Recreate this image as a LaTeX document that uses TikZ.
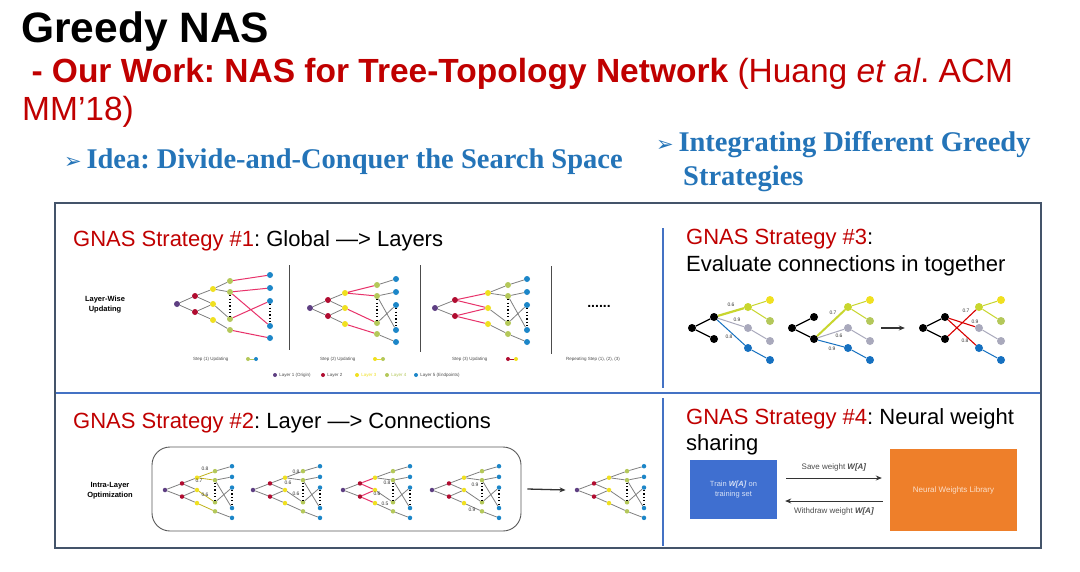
\documentclass[tikz,border=0pt]{standalone}
\usepackage{fontspec}
\setmainfont{Liberation Sans}
\newfontfamily\tnr{Liberation Serif}
\newfontfamily\dvs{DejaVu Sans}
\usetikzlibrary{arrows.meta,positioning}
\frenchspacing
\definecolor{cRed}{HTML}{C00000}
\definecolor{cBlueT}{HTML}{2474B8}
\definecolor{cFrame}{HTML}{44546A}
\definecolor{cDiv}{HTML}{4472C4}
\definecolor{cP}{HTML}{5E3F82}
\definecolor{cR}{HTML}{B00C30}
\definecolor{cY}{HTML}{F0E020}
\definecolor{cG}{HTML}{B4C85A}
\definecolor{cB}{HTML}{1C86C8}
\definecolor{cHL}{HTML}{E8336B}
\definecolor{cYG}{HTML}{C8D62E}
\definecolor{cGr}{HTML}{A9A9BC}
\definecolor{cBB}{HTML}{1570C0}
\definecolor{cBox}{HTML}{3F6FD0}
\definecolor{cOr}{HTML}{EE7F2A}
\tikzset{
  n/.style={circle,inner sep=0pt,minimum size=6pt,draw=none},
  cn/.style={circle,inner sep=0pt,minimum size=8pt,draw=none},
  ed/.style={draw=black!50,line width=0.8pt},
  e1/.style={ed},e2/.style={ed},e3/.style={ed},e4/.style={ed},
  hl/.style={draw=cHL,line width=1pt},
  lbl/.style={font=\fontsize{5}{5}\selectfont,inner sep=0pt,text=black!80},
  tiny/.style={font=\fontsize{4.5}{5}\selectfont,inner sep=0pt,text=black!70},
  head/.style={anchor=base west,inner sep=0pt},
  strat/.style={anchor=base west,inner sep=0pt,font=\fontsize{22}{26}\selectfont},
  bul/.style={anchor=base west,inner sep=0pt,text=cBlueT,font=\tnr\bfseries\fontsize{28.5}{34}\selectfont},
  sep/.style={draw=black!70,line width=0.8pt},
  dv/.style={draw=cDiv,line width=1.6pt},
  dots/.style={draw=black,line width=1.2pt,dash pattern=on 1.2pt off 2.2pt},
  ar/.style={-{Stealth[length=6pt,width=5pt]},line width=1pt,draw=black!80}
}
\def\tys{1}
\def\ns{6pt}
% layer-wise tree: #1 prefix, #2 x, #3 y, #4 xr, #5 xy, #6 xg, #7 xl
\newcommand{\lwtree}[7]{%
\begin{scope}[shift={(#2,#3)},yscale=\tys]
\node[n,fill=cP,minimum size=\ns] (#1o) at (0,0) {};
\node[n,fill=cR,minimum size=\ns] (#1r1) at (#4,-8) {};
\node[n,fill=cR,minimum size=\ns] (#1r2) at (#4,8) {};
\node[n,fill=cY,minimum size=\ns] (#1y1) at (#5,-15) {};
\node[n,fill=cY,minimum size=\ns] (#1y2) at (#5,0) {};
\node[n,fill=cY,minimum size=\ns] (#1y3) at (#5,16) {};
\node[n,fill=cG,minimum size=\ns] (#1g1) at (#6,-23) {};
\node[n,fill=cG,minimum size=\ns] (#1g2) at (#6,-12) {};
\node[n,fill=cG,minimum size=\ns] (#1g3) at (#6,15) {};
\node[n,fill=cG,minimum size=\ns] (#1g4) at (#6,26) {};
\node[n,fill=cB,minimum size=\ns] (#1l1) at (#7,-29) {};
\node[n,fill=cB,minimum size=\ns] (#1l2) at (#7,-16) {};
\node[n,fill=cB,minimum size=\ns] (#1l3) at (#7,-3) {};
\node[n,fill=cB,minimum size=\ns] (#1l4) at (#7,22) {};
\node[n,fill=cB,minimum size=\ns] (#1l5) at (#7,34) {};
\draw[e1] (#1o)--(#1r1) (#1o)--(#1r2);
\draw[e2] (#1r1)--(#1y1) (#1r1)--(#1y2) (#1r2)--(#1y2) (#1r2)--(#1y3);
\draw[e3] (#1y1)--(#1g1) (#1y1)--(#1g2) (#1y2)--(#1g3) (#1y3)--(#1g4);
\draw[e4] (#1g1)--(#1l1) (#1g2)--(#1l2) (#1g2)--(#1l4) (#1g3)--(#1l3) (#1g4)--(#1l5);
\draw[dots] (#1g2.south) -- (#1g3.north);
\draw[dots] (#1l3.south) -- (#1l4.north);
\end{scope}}
% strategy-3 tree
\newcommand{\ctree}[3]{%
\begin{scope}[shift={(#2,#3)}]
\node[cn,fill=black] (#1o) at (0,0) {};
\node[cn,fill=black] (#1b1) at (22,-11) {};
\node[cn,fill=black] (#1b2) at (22,11) {};
\node[cn,fill=cYG] (#1ym) at (56,-21) {};
\node[cn,fill=cY] (#1yl) at (78,-28) {};
\node[cn,fill=cG] (#1gl) at (78,-7) {};
\node[cn,fill=cGr] (#1gm) at (56,0) {};
\node[cn,fill=cGr] (#1gr) at (78,13) {};
\node[cn,fill=cBB] (#1bm) at (56,20) {};
\node[cn,fill=cBB] (#1bl) at (78,32) {};
\draw[line width=1.2pt] (#1o)--(#1b1) (#1o)--(#1b2);
\draw[cYG,line width=1pt] (#1ym)--(#1yl) (#1ym)--(#1gl);
\draw[cGr,line width=1pt] (#1gm)--(#1gr);
\draw[cBB,line width=1pt] (#1bm)--(#1bl);
\end{scope}}
\begin{document}
\begin{tikzpicture}[x=1pt,y=-1pt]
\useasboundingbox[fill=white] (0,0) rectangle (1080,571);
% ---------- header ----------
\node[head,font=\bfseries\fontsize{42.5}{42}\selectfont] (title) at (21,42) {Greedy NAS};
\node[head,text=cRed,font=\fontsize{33.5}{36}\selectfont] (sub1) at (22,82) {\bfseries\ - Our Work: NAS for Tree-Topology Network\mdseries\ (Huang \textit{et al}. ACM};
\node[head,text=cRed,font=\fontsize{33.5}{36}\selectfont] (sub2) at (22,120) {MM’18)};
\node[bul] (idea) at (64,168) {{\dvs\fontsize{21}{20}\selectfont ➢}\,Idea: Divide-and-Conquer the Search Space};
\node[bul] (integ1) at (656,151) {{\dvs\fontsize{21}{20}\selectfont ➢}\,Integrating Different Greedy};
\node[bul] (integ2) at (683,185) {Strategies};
% ---------- frame ----------
\draw[draw=cFrame,line width=2pt] (55,203) rectangle (1041,548);
\draw[dv] (663,228) -- (663,388);
\draw[dv] (56,393) -- (1040,393);
\draw[dv] (663,398) -- (663,546);
% ---------- strategy 1 ----------
\node[strat] (s1) at (73,246) {\textcolor{cRed}{GNAS Strategy \#1}: Global —> Layers};
\node[align=center,font=\bfseries\fontsize{7.5}{10}\selectfont,inner sep=0pt] (lwu) at (105,305) {Layer-Wise\\Updating};
\draw[sep] (289,265) -- (289,350);
\draw[sep] (420,265) -- (420,352);
\draw[sep] (551,266) -- (551,354);
\begin{scope}[e4/.style={hl}]
\lwtree{a}{177}{304}{18}{36}{53}{93}
\end{scope}
\begin{scope}[e3/.style={hl}]
\lwtree{b}{310}{308}{18}{35}{67}{86}
\end{scope}
\begin{scope}[e2/.style={hl}]
\lwtree{c}{435}{308}{20}{53}{73}{92}
\end{scope}
\node[font=\bfseries\fontsize{14}{14}\selectfont,inner sep=0pt] (rdots) at (599,306) {......};
\node[tiny,anchor=west] (cap1) at (193,359) {Step (1) Updating};
\node[n,fill=cG,minimum size=4pt] (cap1a) at (248,359) {};
\node[n,fill=cB,minimum size=4pt] (cap1b) at (256,359) {};
\draw[cG,line width=0.8pt] (cap1a)--(cap1b);
\node[tiny,anchor=west] (cap2) at (320,359) {Step (2) Updating};
\node[n,fill=cY,minimum size=4pt] (cap2a) at (375,359) {};
\node[n,fill=cG,minimum size=4pt] (cap2b) at (383,359) {};
\draw[cY,line width=0.8pt] (cap2a)--(cap2b);
\node[tiny,anchor=west] (cap3) at (452,359) {Step (3) Updating};
\node[n,fill=cR,minimum size=4pt] (cap3a) at (508,359) {};
\node[n,fill=cY,minimum size=4pt] (cap3b) at (516,359) {};
\draw[cR,line width=0.8pt] (cap3a)--(cap3b);
\node[tiny,anchor=west] (cap4) at (566,359) {Repeating Step (1), (2), (3)};
% legend
\node[n,fill=cP,minimum size=4pt] (lg1) at (275,375) {};
\node[tiny,anchor=west,right=2pt of lg1] (lg1t) {Layer 1 (Origin)};
\node[n,fill=cR,minimum size=4pt] (lg2) at (323,375) {};
\node[tiny,anchor=west,right=2pt of lg2] (lg2t) {Layer 2};
\node[n,fill=cY,minimum size=4pt] (lg3) at (357,375) {};
\node[tiny,anchor=west,right=2pt of lg3,text=cY] (lg3t) {Layer 3};
\node[n,fill=cG,minimum size=4pt] (lg4) at (387,375) {};
\node[tiny,anchor=west,right=2pt of lg4,text=cG] (lg4t) {Layer 4};
\node[n,fill=cB,minimum size=4pt] (lg5) at (416,375) {};
\node[tiny,anchor=west,right=2pt of lg5] (lg5t) {Layer 5 (Endpoints)};
% ---------- strategy 2 ----------
\node[strat] (s2) at (73,428) {\textcolor{cRed}{GNAS Strategy \#2}: Layer —> Connections};
\node[align=center,font=\bfseries\fontsize{7.5}{10}\selectfont,inner sep=0pt] (ilo) at (110,491) {Intra-Layer\\Optimization};
\node[draw=black!65,line width=0.9pt,rounded corners=18pt,minimum width=369pt,minimum height=84pt,inner sep=0pt] (ibox) at (336.5,489) {};
\def\tys{0.82}\def\ns{4.5pt}
\begin{scope}[e3/.style={draw=cY!80!black,line width=0.8pt}]
\lwtree{d}{165}{490}{17}{32}{50}{67}
\end{scope}
\lwtree{e}{253}{490}{17}{32}{50}{67}
\begin{scope}[e2/.style={hl}]
\lwtree{f}{343}{490}{17}{32}{50}{67}
\end{scope}
\lwtree{g}{432}{490}{17}{32}{50}{67}
\lwtree{h}{577}{490}{17}{32}{50}{67}
\def\tys{1}\def\ns{6pt}
\node[lbl] (d1) at (205,469) {0.8};
\node[lbl] (d2) at (199,481) {0.7};
\node[lbl] (d3) at (205,495) {0.6};
\node[lbl] (e1) at (296,472) {0.8};
\node[lbl] (e2) at (288,483) {0.6};
\node[lbl] (e3) at (296,494) {0.6};
\node[lbl] (f1) at (387,483) {0.8};
\node[lbl] (f2) at (377,494) {0.6};
\node[lbl] (f3) at (385,504) {0.5};
\node[lbl] (g1l) at (475,485) {0.9};
\node[lbl] (g2l) at (472,510) {0.9};
\draw[ar,line width=1.3pt] ([xshift=6pt]ibox.east) -- ([xshift=-9pt]ho.west);
% ---------- strategy 3 ----------
\node[strat] (s3) at (686,244) {\textcolor{cRed}{GNAS Strategy \#3}:};
\node[strat] (s3b) at (686,271) {Evaluate connections in together};
\ctree{p}{692}{328}
\ctree{q}{792}{328}
\ctree{r}{923}{328}
\draw[cYG,line width=2.2pt] (pb1)--(pym);
\draw[cGr,line width=1pt] (pb1)--(pgm);
\draw[cBB,line width=1pt] (pb1)--(pbm);
\draw[cYG,line width=2pt] (qb2)--(qym);
\draw[cGr,line width=1pt] (qb2)--(qgm);
\draw[cBB,line width=1pt] (qb2)--(qbm);
\draw[red!85!black,line width=1.1pt] (rb2)--(rym);
\draw[red!85!black,line width=1.1pt] (rb1)--(rbm);
\draw[red!85!black,line width=1.1pt] (rb1)--(rgm);
\node[lbl] (p1) at (731,305) {0.6};
\node[lbl] (p2) at (737,320) {0.9};
\node[lbl] (p3) at (729,337) {0.8};
\node[lbl] (q1) at (833,313) {0.7};
\node[lbl] (q2) at (839,336) {0.6};
\node[lbl] (q3) at (832,349) {0.9};
\node[lbl] (r1l) at (966,311) {0.7};
\node[lbl] (r2l) at (975,322) {0.9};
\node[lbl] (r3l) at (965,341) {0.8};
\draw[ar,line width=1.4pt] ([xshift=7pt]qgr.east |- qo) -- ([xshift=-14pt]ro.west);
% ---------- strategy 4 ----------
\node[strat] (s4) at (686,424) {\textcolor{cRed}{GNAS Strategy \#4}: Neural weight};
\node[strat] (s4b) at (686,450) {sharing};
\node[fill=cBox,minimum width=87pt,minimum height=59pt,inner sep=0pt,align=center,text=white!80!cBox,font=\fontsize{7.5}{9.5}\selectfont] (train) at (733.5,489.5) {Train \textbf{\textit{W[A]}} on\\training set};
\node[fill=cOr,minimum width=127pt,minimum height=82pt,inner sep=0pt,text=white!75!cOr,font=\fontsize{8}{10}\selectfont] (lib) at (953.5,490) {Neural Weights Library};
\draw[ar,line width=0.8pt] ([xshift=9pt,yshift=11.5pt]train.east) -- ([xshift=-8pt,yshift=12pt]lib.west) node[midway,above=3pt,font=\fontsize{8}{9}\selectfont,text=black!70] (sv) {Save weight \textbf{\textit{W[A]}}};
\draw[ar,line width=0.8pt] ([xshift=-7pt,yshift=-11pt]lib.west) -- ([xshift=8pt,yshift=-11.5pt]train.east) node[midway,below=3pt,font=\fontsize{8}{9}\selectfont,text=black!70] (wd) {Withdraw weight \textbf{\textit{W[A]}}};
\end{tikzpicture}
\end{document}
